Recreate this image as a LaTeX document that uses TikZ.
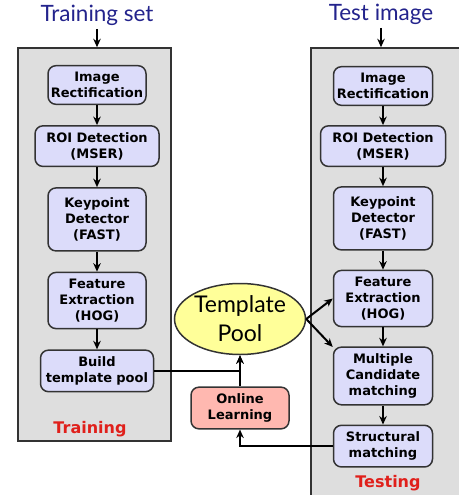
\documentclass[tikz,border=0pt]{standalone}
\usepackage{fontspec}
\setmainfont{Lato}
\newfontfamily\boxfont{DejaVu Sans}
\usetikzlibrary{arrows.meta,positioning,shapes.geometric}
\definecolor{stepfill}{HTML}{DCDCFA}
\definecolor{panelgray}{HTML}{DEDEDE}
\definecolor{poolyellow}{HTML}{FFFF99}
\definecolor{learnpink}{HTML}{FFB8B0}
\definecolor{titleblue}{HTML}{23238C}
\definecolor{labelred}{HTML}{E0201B}
\definecolor{edgegray}{HTML}{333333}
\tikzset{
  stagebox/.style={draw=edgegray, rounded corners=8pt, line width=1.5pt, align=center,
    fill=stepfill, font=\boxfont\bfseries\fontsize{13}{16}\selectfont, inner xsep=2pt, inner ysep=6.5pt},
  learnbox/.style={stagebox, fill=learnpink},
  poolnode/.style={ellipse, draw=edgegray, line width=1.5pt, fill=poolyellow, align=center,
    minimum width=131pt, minimum height=71pt, inner sep=0pt, font=\fontsize{23}{29}\selectfont},
  panel/.style={draw=edgegray, line width=1.5pt, fill=panelgray, inner sep=0pt},
  settitle/.style={text=titleblue, font=\fontsize{22.5}{26}\selectfont},
  phaselabel/.style={text=labelred, font=\boxfont\bfseries\fontsize{16}{19}\selectfont},
  arr/.style={-{Stealth[length=8.5pt,width=7.5pt]}, line width=2pt}
}

\begin{document}
\begin{tikzpicture}[x=1pt, y=-1pt, node distance=20pt]
    \useasboundingbox (0,0) rectangle (458,495);
    % frames
    \node[panel, minimum width=153pt, minimum height=393pt] (trainpanel) at (94.5,244.5) {};
    \node[panel, minimum width=160pt, minimum height=460pt] (testpanel) at (391,278) {};
    \node[settitle] (trainTitle) at (97,15) {Training set};
    \node[settitle] (testTitle) at (381,14) {Test image};
    % training column
    \node[stagebox, text width=94pt] (imgL) at (97,85) {Image\\Rectification};
    \node[stagebox, text width=120pt, below=of imgL] (roiL) {ROI Detection\\(MSER)};
    \node[stagebox, text width=94pt, minimum height=63pt, below=of roiL] (kpL) {Keypoint\\Detector\\(FAST)};
    \node[stagebox, text width=94pt, below=of kpL] (featL) {Feature\\Extraction\\(HOG)};
    \node[stagebox, text width=109pt, below=of featL] (build) {Build\\template pool};
    \node[phaselabel] (trainLabel) at (90,429) {Training};
    % testing column
    \begin{scope}[node distance=19pt]
    \node[stagebox, text width=95pt] (imgR) at (383,86) {Image\\Rectification};
    \node[stagebox, text width=121pt, below=of imgR] (roiR) {ROI Detection\\(MSER)};
    \node[stagebox, text width=95pt, minimum height=63pt, below=of roiR] (kpR) {Keypoint\\Detector\\(FAST)};
    \node[stagebox, text width=95pt, below=of kpR] (featR) {Feature\\Extraction\\(HOG)};
    \node[stagebox, text width=95pt, below=of featR] (mcand) {Multiple\\Candidate\\matching};
    \node[stagebox, text width=95pt, below=of mcand] (smatch) {Structural\\matching};
    \end{scope}
    \node[phaselabel] (testLabel) at (388,483) {Testing};
    % middle
    \node[poolnode] (pool) at (240,319) {Template\\Pool};
    \node[learnbox, text width=94pt] (learn) at (240,408) {Online\\Learning};
    % arrows
    \draw[arr] (trainTitle.south) -- (trainTitle.south |- trainpanel.north);
    \draw[arr] (testTitle.south) -- (testTitle.south |- testpanel.north);
    \draw[arr] (imgL) -- (roiL);
    \draw[arr] (roiL) -- (kpL);
    \draw[arr] (kpL) -- (featL);
    \draw[arr] (featL) -- (build);
    \draw[arr] (imgR) -- (roiR);
    \draw[arr] (roiR) -- (kpR);
    \draw[arr] (kpR) -- (featR);
    \draw[arr] (featR) -- (mcand);
    \draw[arr] (mcand) -- (smatch);
    \draw[arr] (build.east) -| (pool.south);
    \draw[arr] (learn) -- (pool);
    \draw[arr] (smatch.west) -| (learn.south);
    \draw[arr] (pool.east) -- (featR.west);
    \draw[arr] (pool.east) -- (mcand.150);
\end{tikzpicture}
\end{document}
